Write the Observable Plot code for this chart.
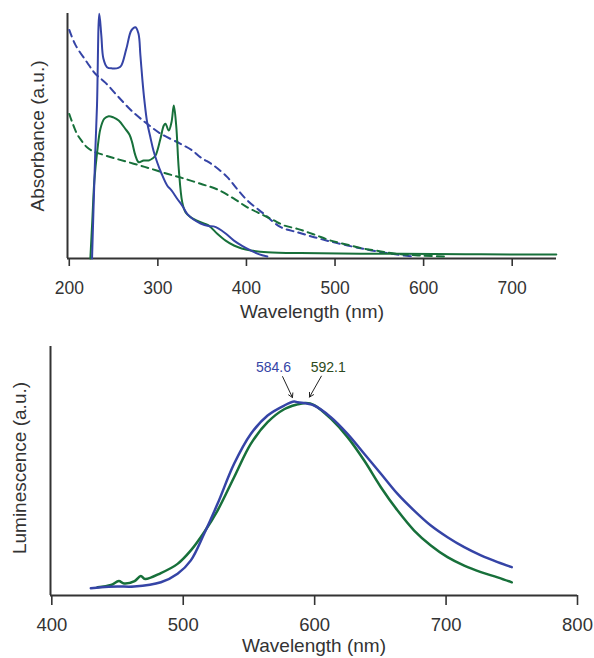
<!DOCTYPE html>
<html>
<head>
<meta charset="utf-8">
<script src="https://cdn.jsdelivr.net/npm/d3@7"></script>
<script src="https://cdn.jsdelivr.net/npm/@observablehq/plot@0.6"></script>
<style>
  html, body { margin: 0; padding: 0; background: #fff; }
  #chart { width: 594px; height: 658px; overflow: hidden; }
  #chart svg { display: block; }
</style>
</head>
<body>
<div id="chart"></div>
<script>
// ---------- Absorbance (top panel) ----------
const absTicks = [200, 300, 400, 500, 600, 700];

const absBlueNm = [225.7, 229.4, 231.3, 233.9, 236.2, 238.5, 242.6, 248.6, 255.4, 258.8, 264.5, 270.1, 274.7, 278.1, 280.3, 282.6, 284.8, 287.9, 291.6, 295.0, 299.2, 304.1, 310.5, 315.4, 321.8, 327.5, 333.1, 340.3, 348.2, 357.2, 362.9, 368.6, 376.5, 385.9, 394.6, 404.8, 413.8, 423.6];
const absBlue   = [0.0, 0.44, 0.624, 0.999, 0.91, 0.816, 0.781, 0.776, 0.778, 0.788, 0.857, 0.931, 0.944, 0.918, 0.829, 0.727, 0.645, 0.556, 0.494, 0.441, 0.393, 0.347, 0.298, 0.278, 0.244, 0.216, 0.182, 0.159, 0.143, 0.133, 0.131, 0.122, 0.102, 0.073, 0.053, 0.033, 0.018, 0.008];

const absGreenNm = [223.8, 226.0, 228.3, 231.7, 235.1, 239.6, 244.5, 249.8, 255.8, 263.3, 267.9, 270.9, 274.7, 278.4, 284.0, 289.7, 293.9, 297.3, 302.9, 306.7, 308.6, 312.3, 315.4, 318.0, 320.7, 323.6, 327.5, 331.2, 336.9, 348.2, 357.2, 367.1, 376.5, 385.9, 394.6, 404.8, 423.6, 461.3, 574.4, 664.9, 749.8];
const absGreen   = [0.0, 0.155, 0.318, 0.441, 0.529, 0.571, 0.581, 0.576, 0.563, 0.529, 0.506, 0.475, 0.42, 0.393, 0.4, 0.4, 0.408, 0.42, 0.489, 0.543, 0.55, 0.522, 0.556, 0.624, 0.543, 0.366, 0.23, 0.189, 0.169, 0.148, 0.135, 0.101, 0.073, 0.053, 0.041, 0.033, 0.026, 0.022, 0.019, 0.017, 0.016];

const absBlueDashNm = [200, 206.8, 220, 229.4, 240.7, 255.8, 272.4, 287.9, 302.9, 325.6, 338.8, 348.2, 362.9, 378.4, 388.9, 401, 419.8, 438.7, 457.6, 476.4, 495.2, 514.1, 532.6, 551.8, 569.9, 589.5];
const absBlueDash   = [0.933, 0.873, 0.801, 0.754, 0.718, 0.658, 0.596, 0.55, 0.51, 0.468, 0.441, 0.413, 0.38, 0.332, 0.286, 0.237, 0.182, 0.128, 0.107, 0.087, 0.069, 0.053, 0.039, 0.026, 0.016, 0.008];

const absGreenDashNm = [200, 203.4, 208.7, 213.6, 220, 227.1, 235.1, 252, 272.7, 291.6, 310.5, 329, 348.2, 367.1, 385.9, 401, 416, 429.3, 442.4, 457.6, 476.4, 495.2, 514.1, 532.9, 551.8, 570.6, 597.1, 627.3];
const absGreenDash   = [0.59, 0.555, 0.509, 0.482, 0.454, 0.437, 0.427, 0.408, 0.387, 0.367, 0.346, 0.327, 0.305, 0.282, 0.244, 0.209, 0.182, 0.159, 0.135, 0.121, 0.098, 0.073, 0.056, 0.04, 0.029, 0.019, 0.012, 0.008];

// ---------- Luminescence (bottom panel) ----------
const lumTicks = [400, 500, 600, 700, 800];

const lumBlueNm = [429.7, 437.3, 450.0, 462.6, 483.0, 495.7, 505.8, 515.9, 526.1, 538.7, 551.4, 564.2, 576.8, 584.4, 587.0, 599.6, 612.3, 625.0, 637.7, 650.4, 663.1, 675.7, 688.4, 701.1, 713.8, 726.5, 739.2, 750.0];
const lumBlue   = [0.029, 0.033, 0.036, 0.036, 0.053, 0.087, 0.141, 0.248, 0.368, 0.529, 0.649, 0.723, 0.763, 0.779, 0.776, 0.763, 0.716, 0.649, 0.569, 0.489, 0.408, 0.341, 0.281, 0.234, 0.194, 0.161, 0.134, 0.114];

const lumGreenNm = [434.8, 445.0, 451.0, 455.0, 463.0, 467.7, 471.0, 483.0, 495.7, 505.8, 515.9, 526.1, 538.7, 551.4, 564.2, 576.8, 586.0, 593.3, 599.6, 612.3, 625.0, 637.7, 650.4, 663.1, 675.7, 688.4, 701.1, 713.8, 726.5, 739.2, 750.0];
const lumGreen   = [0.033, 0.042, 0.058, 0.048, 0.058, 0.078, 0.066, 0.09, 0.127, 0.181, 0.254, 0.341, 0.475, 0.609, 0.696, 0.748, 0.766, 0.773, 0.765, 0.71, 0.636, 0.542, 0.435, 0.341, 0.261, 0.201, 0.154, 0.12, 0.094, 0.073, 0.053];

const peakLabels = ["584.6", "592.1"];
const peakNm = [584.6, 592.1];

// ---------- styles ----------
const BLUE = "#3544a6";
const GREEN = "#17703a";
const AXIS = "#333333";
const FONT = "'Liberation Sans', Arial, Helvetica, sans-serif";

const toRows = (xs, ys) => xs.map((x, i) => ({x, y: ys[i]}));

const topChart = Plot.plot({
  width: 594,
  height: 330,
  marginTop: 13,
  marginBottom: 72,
  marginLeft: 67,
  marginRight: 38,
  style: {fontFamily: FONT, color: AXIS, background: "white"},
  x: {domain: [198, 750]},
  y: {domain: [0, 1], axis: null},
  marks: [
    Plot.axisX({ticks: absTicks, tickFormat: d => String(d), tickSize: 8, tickPadding: 15, fontSize: 17.5, strokeWidth: 1.6, label: null}),
    Plot.ruleY([0], {stroke: AXIS, strokeWidth: 2}),
    Plot.ruleX([198], {y1: 0, y2: 1, stroke: AXIS, strokeWidth: 2}),
    Plot.line(toRows(absBlueDashNm, absBlueDash), {x: "x", y: "y", stroke: BLUE, strokeWidth: 2, strokeDasharray: "7,5", curve: "catmull-rom"}),
    Plot.line(toRows(absGreenDashNm, absGreenDash), {x: "x", y: "y", stroke: GREEN, strokeWidth: 2, strokeDasharray: "7,5", curve: "catmull-rom"}),
    Plot.line(toRows(absGreenNm, absGreen), {x: "x", y: "y", stroke: GREEN, strokeWidth: 2, curve: "catmull-rom"}),
    Plot.line(toRows(absBlueNm, absBlue), {x: "x", y: "y", stroke: BLUE, strokeWidth: 2, curve: "catmull-rom"}),
    Plot.text(["Wavelength (nm)"], {text: d => d, frameAnchor: "bottom", lineAnchor: "middle", textAnchor: "middle", dy: 53, fontSize: 19, fill: AXIS}),
    Plot.text(["Absorbance (a.u.)"], {text: d => d, frameAnchor: "left", textAnchor: "middle", lineAnchor: "middle", rotate: -90, dx: -30, fontSize: 19, fill: AXIS})
  ]
});

const maxB = d3.max(lumBlue), maxG = d3.max(lumGreen);

const bottomChart = Plot.plot({
  width: 594,
  height: 328,
  marginTop: 16,
  marginBottom: 63,
  marginLeft: 50,
  marginRight: 17,
  style: {fontFamily: FONT, color: AXIS, background: "white"},
  x: {domain: [399, 800]},
  y: {domain: [0, 1], axis: null},
  marks: [
    Plot.axisX({ticks: lumTicks, tickFormat: d => String(d), tickSize: 10, tickPadding: 12, fontSize: 18.5, strokeWidth: 1.6, label: null}),
    Plot.ruleY([0], {stroke: AXIS, strokeWidth: 2}),
    Plot.ruleX([399], {y1: 0, y2: 1, stroke: AXIS, strokeWidth: 2}),
    Plot.line(toRows(lumGreenNm, lumGreen), {x: "x", y: "y", stroke: GREEN, strokeWidth: 2.5, curve: "catmull-rom"}),
    Plot.line(toRows(lumBlueNm, lumBlue), {x: "x", y: "y", stroke: BLUE, strokeWidth: 2.5, curve: "catmull-rom"}),
    Plot.arrow([0], {x1: () => peakNm[0] - 9, y1: () => maxB + 0.1, x2: () => peakNm[0] - 1.5, y2: () => maxB + 0.016, stroke: "#222", strokeWidth: 1, headLength: 7}),
    Plot.arrow([0], {x1: () => peakNm[1] + 13, y1: () => maxG + 0.108, x2: () => peakNm[1] + 4, y2: () => maxG + 0.024, stroke: "#222", strokeWidth: 1, headLength: 7}),
    Plot.text([0], {x: () => peakNm[0], y: () => maxB, text: () => peakLabels[0], dx: -21, dy: -34, fill: BLUE, fontSize: 14}),
    Plot.text([0], {x: () => peakNm[1], y: () => maxG, text: () => peakLabels[1], dx: 24, dy: -36, fill: "#2c4a20", fontSize: 14}),
    Plot.text(["Wavelength (nm)"], {text: d => d, frameAnchor: "bottom", lineAnchor: "middle", textAnchor: "middle", dy: 50, fontSize: 19, fill: AXIS}),
    Plot.text(["Luminescence (a.u.)"], {text: d => d, frameAnchor: "left", textAnchor: "middle", lineAnchor: "middle", rotate: -90, dx: -31, dy: -3, fontSize: 19, fill: AXIS})
  ]
});

const el = document.getElementById("chart");
el.appendChild(topChart);
el.appendChild(bottomChart);
</script>
</body>
</html>
